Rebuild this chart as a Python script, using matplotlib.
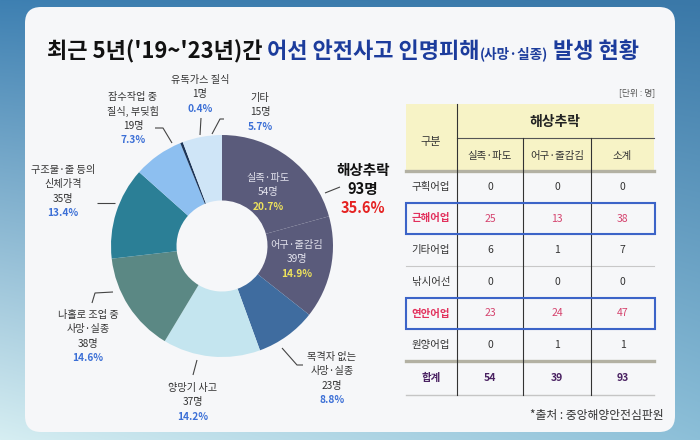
import numpy as np
import matplotlib
matplotlib.use('Agg')
import matplotlib.pyplot as plt
from matplotlib.patches import FancyBboxPatch, Rectangle

plt.rcParams['font.family'] = ['Noto Sans CJK KR', 'DejaVu Sans']

# ---------------- data ----------------
pie_names = ['실족·파도', '어구·줄감김', '목격자 없는\n사망·실종', '양망기 사고',
             '나홀로 조업 중\n사망·실종', '구조물·줄 등의\n신체가격',
             '잠수작업 중\n질식, 부딪힘', '유독가스 질식', '기타']
pie_values = [54, 39, 23, 37, 38, 35, 19, 1, 15]
pie_colors = ['#5a5b7b', '#5a5b7b', '#3f6c9f', '#c4e5ef', '#5b8884',
              '#2b7f96', '#8dbff0', '#1d3557', '#cfe5f7']
group_name = '해상추락'
group_members = [0, 1]

table_rows = ['구획어업', '근해어업', '기타어업', '낚시어선', '연안어업', '원양어업']
table_cols = ['실족·파도', '어구·줄감김', '소계']
col_slip = [0, 25, 6, 0, 23, 0]
col_gear = [0, 13, 1, 0, 24, 1]
col_sub = [0, 38, 7, 0, 47, 1]
highlight_rows = ['근해어업', '연안어업']

title_parts = ["최근 5년('19~'23년)간", " 어선 안전사고 인명피해", "(사망·실종)", " 발생 현황"]

total = sum(pie_values)
pcts = [v / total * 100 for v in pie_values]

# ---------------- figure ----------------
fig = plt.figure(figsize=(7, 4.4), dpi=100)
bg = fig.add_axes([0, 0, 1, 1])
bg.axis('off')
H, W = 440, 700
yy, xx = np.mgrid[0:1:H * 1j, 0:1:W * 1j]
tl = np.array([0x3e, 0x80, 0xb2]) / 255
tr = np.array([0x3a, 0x78, 0xa8]) / 255
bl = np.array([0xd6, 0xee, 0xf2]) / 255
br = np.array([0x8c, 0xbf, 0xd8]) / 255
img = ((1 - yy)[..., None] * ((1 - xx)[..., None] * tl + xx[..., None] * tr)
       + yy[..., None] * ((1 - xx)[..., None] * bl + xx[..., None] * br))
bg.imshow(img, extent=(0, 700, 440, 0), aspect='auto', zorder=0)
bg.set_xlim(0, 700)
bg.set_ylim(440, 0)
card = FancyBboxPatch((25, 7), 650, 425, boxstyle='round,pad=0,rounding_size=16',
                      fc='#f6f7f9', ec='none', zorder=1)
bg.add_patch(card)

# donut
pax = fig.add_axes([111 / 700, (440 - 357) / 440, 222 / 700, 222 / 440])
pax.pie(pie_values, colors=pie_colors, startangle=90, counterclock=False, radius=1,
        wedgeprops=dict(width=0.59, linewidth=0))
pax.set_xlim(-1, 1)
pax.set_ylim(-1, 1)
pax.axis('off')

# overlay
ov = fig.add_axes([0, 0, 1, 1])
ov.set_xlim(0, 700)
ov.set_ylim(440, 0)
ov.axis('off')
ov.patch.set_alpha(0)

renderer = fig.canvas.get_renderer()

# title
title_colors = ['#111111', '#1c3c9c', '#1c3c9c', '#1c3c9c']
title_scale = [1, 1, 0.62, 1]


def draw_title(fs, x0=47, yb=58):
    x = x0
    ts = []
    for s, c, sc in zip(title_parts, title_colors, title_scale):
        t = ov.text(x, yb, s, fontsize=fs * sc, color=c, fontweight='bold',
                    ha='left', va='baseline')
        x += t.get_window_extent(renderer).width
        ts.append(t)
    return ts, x - x0


ts, w = draw_title(16)
for t in ts:
    t.remove()
draw_title(16 * 593 / w)

# labels
lab_color = '#333333'
pct_color = '#3b6fd6'
label_pos = [(268, 178), (297, 245), (332, 357), (193, 388), (88, 315),
             (63, 170), (133, 97), (200, 80), (260, 98)]
inside = [0, 1]
sp = 14.3
for i, (name, v, p, (x, y)) in enumerate(zip(pie_names, pie_values, pcts, label_pos)):
    lines = name.split('\n')
    if i in inside:
        nc, pc = '#e4e4ee', '#eee35c'
    else:
        nc, pc = lab_color, pct_color
    k = 0
    for ln in lines:
        ov.text(x, y + k * sp, ln, fontsize=7.3, color=nc, ha='center', va='center')
        k += 1
    ov.text(x, y + k * sp, f'{v}명', fontsize=7.3, color=nc, ha='center', va='center')
    k += 1
    ov.text(x, y + k * sp, f'{p:.1f}%', fontsize=7.3, color=pc, ha='center',
            va='center', fontweight='bold')

gv = sum(pie_values[i] for i in group_members)
gp = gv / total * 100
ov.text(363, 170, group_name, fontsize=10.5, color='#111111', fontweight='bold',
        ha='center', va='center')
ov.text(363, 189, f'{gv}명', fontsize=10.5, color='#111111', fontweight='bold',
        ha='center', va='center')
ov.text(363, 208, f'{gp:.1f}%', fontsize=10.5, color='#e52222', fontweight='bold',
        ha='center', va='center')

# leader lines
leaders = [
    [(325, 193), (340, 187)],
    [(212, 134), (220, 119), (224, 119)],
    [(200, 135), (201, 118)],
    [(172, 143), (163, 128), (155, 128)],
    [(97, 203), (115, 203)],
    [(92, 303), (95, 293), (113, 292)],
    [(197, 360), (193, 375)],
    [(282, 348), (297, 365), (303, 365)],
]
for pts in leaders:
    xs, ys = zip(*pts)
    ov.plot(xs, ys, color='#444444', lw=0.8, solid_capstyle='butt')

# ---------------- table ----------------
tx0, tx1 = 406, 654
colx = [406, 457, 523, 591, 654]
ytop, ysub, yhead = 104, 138, 171
nrows = len(table_rows)
rh = (361 - yhead) / nrows
ytot_top, ytot_bot = 361, 395

ov.add_patch(Rectangle((tx0, ytop), tx1 - tx0, yhead - ytop, fc='#f7f3c6', ec='none'))
ov.plot([457, tx1], [ysub, ysub], color='#555555', lw=0.8)
ov.plot([tx0, tx1], [yhead, yhead], color='#b3b1a3', lw=2.4)
ov.plot([tx0, tx1], [ytot_top, ytot_top], color='#b3b1a3', lw=2.4)
ov.plot([tx0, tx1], [ytot_bot, ytot_bot], color='#c5c5c5', lw=1.0)
for r in range(1, nrows):
    yl = yhead + r * rh
    ov.plot([tx0, tx1], [yl, yl], color='#c8c8c8', lw=0.8)
ov.plot([457, 457], [ytop, ytot_bot], color='#333333', lw=0.8)
for cx in colx[2:4]:
    ov.plot([cx, cx], [ysub, ytot_bot], color='#333333', lw=0.8)

ov.text(431, 142, '구분', fontsize=8, color='#333333', ha='center', va='center')
ov.text(555, 122, group_name, fontsize=10, color='#222222', fontweight='bold',
        ha='center', va='center')
ccx = [(colx[i] + colx[i + 1]) / 2 for i in range(1, 4)]
for cx, name in zip(ccx, table_cols):
    ov.text(cx, 156, name, fontsize=7.5, color='#333333', ha='center', va='center')

for r, (name, a, b, c) in enumerate(zip(table_rows, col_slip, col_gear, col_sub)):
    yc = yhead + (r + 0.5) * rh
    hl = name in highlight_rows
    ov.text(431, yc, name, fontsize=7.5, color='#e2305c' if hl else '#333333',
            fontweight='bold' if hl else 'normal', ha='center', va='center')
    for cx, val in zip(ccx, (a, b, c)):
        ov.text(cx, yc, str(val), fontsize=7.5, color='#d5436e' if hl else '#333333',
                ha='center', va='center')
    if hl:
        ov.add_patch(Rectangle((tx0, yhead + r * rh), 249, rh, fc='none',
                               ec='#3c64c8', lw=1.5, zorder=5))

ytc = (ytot_top + ytot_bot) / 2
ov.text(431, ytc, '합계', fontsize=7.5, color='#4a2262', fontweight='bold',
        ha='center', va='center')
for cx, val in zip(ccx, (sum(col_slip), sum(col_gear), sum(col_sub))):
    ov.text(cx, ytc, str(val), fontsize=7.5, color='#4a2262', fontweight='bold',
            ha='center', va='center')

ov.text(655, 93, '[단위 : 명]', fontsize=6.3, color='#555555', ha='right', va='center')
ov.text(664, 416, '*출처 : 중앙해양안전심판원', fontsize=8.5, color='#333333',
        ha='right', va='center')

fig.savefig('out.png', dpi=100)
